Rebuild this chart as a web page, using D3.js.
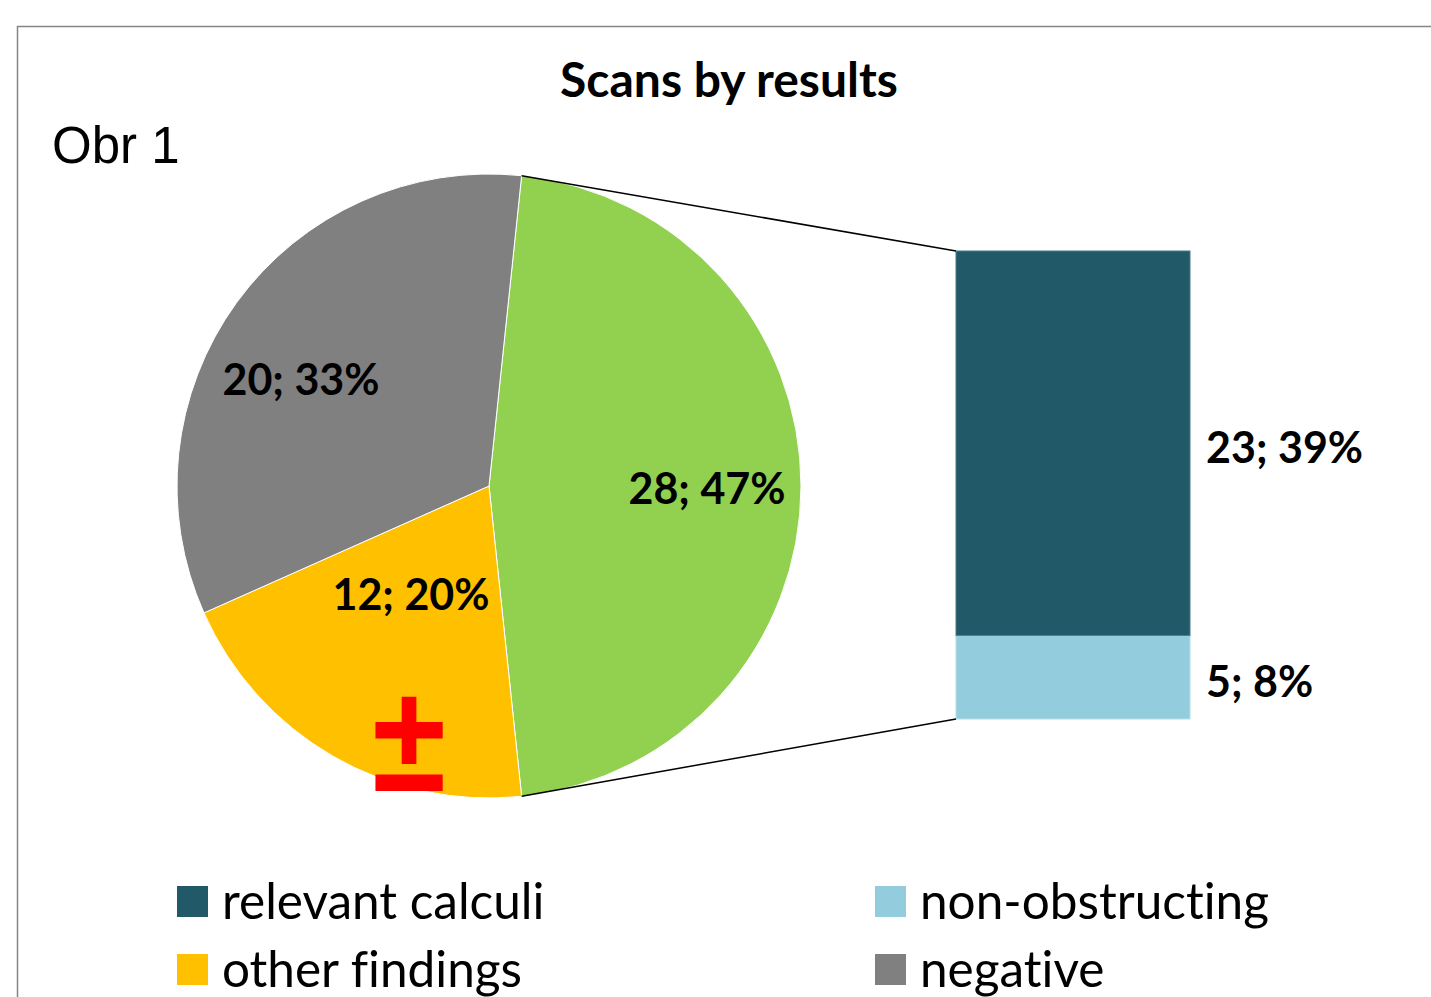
<!DOCTYPE html>
<html>
<head>
<meta charset="utf-8">
<script src="https://cdn.jsdelivr.net/npm/d3@7"></script>
<style>
  html, body { margin: 0; padding: 0; background: #fff; }
  svg { display: block; }
</style>
</head>
<body>
<svg id="chart" width="1431" height="997"></svg>
<script>
// pie: main categories
const pieNames = ['calculi', 'other findings', 'negative'];
const pieValues = [28, 12, 20];
const pieLabels = ['28; 47%', '12; 20%', '20; 33%'];
const pieColors = ['#92D050', '#FFC000', '#808080'];

// bar: split of the first slice
const barNames = ['non-obstructing', 'relevant calculi'];
const barValues = [5, 23];
const barLabels = ['5; 8%', '23; 39%'];
const barColors = ['#93CDDD', '#215968'];

const legendNames = ['relevant calculi', 'non-obstructing', 'other findings', 'negative'];
const legendColors = ['#215968', '#93CDDD', '#FFC000', '#808080'];

const W = 1431, H = 997;
const font = 'Lato, "Open Sans", sans-serif';
const svg = d3.select('#chart');

// frame (cut off at right / bottom like the original)
svg.append('rect')
  .attr('x', 17.5).attr('y', 26.5)
  .attr('width', W + 20).attr('height', H + 20)
  .attr('fill', 'none').attr('stroke', '#858585').attr('stroke-width', 1.5);

svg.append('text')
  .attr('x', 729).attr('y', 97)
  .attr('text-anchor', 'middle')
  .style('font-family', font).style('font-weight', 700).style('font-size', '48px')
  .text('Scans by results');

svg.append('text')
  .attr('x', 52).attr('y', 163)
  .style('font-family', '"Liberation Sans", Arial, sans-serif').style('font-size', '51px')
  .text('Obr 1');

// ---- pie
const cx = 489, cy = 486, r = 312;
const total = d3.sum(pieValues);
const start = Math.PI / 2 - (pieValues[0] / total) * Math.PI;
const pie = d3.pie().sort(null).startAngle(start).endAngle(start + 2 * Math.PI);
const arcs = pie(pieValues);
const arc = d3.arc().innerRadius(0).outerRadius(r);

const gp = svg.append('g').attr('transform', `translate(${cx},${cy})`);
gp.selectAll('path').data(arcs).join('path')
  .attr('d', arc)
  .attr('fill', (d, i) => pieColors[i])
  .attr('stroke', '#fff').attr('stroke-width', 1);

const labelPos = [[218, 1], [-78, 107], [-188, -108]];
gp.selectAll('text.lbl').data(arcs).join('text')
  .attr('class', 'lbl')
  .attr('x', (d, i) => labelPos[i][0])
  .attr('y', (d, i) => labelPos[i][1])
  .attr('text-anchor', 'middle').attr('dominant-baseline', 'central')
  .style('font-family', font).style('font-weight', 700).style('font-size', '43px')
  .text((d, i) => pieLabels[i]);

// ± mark in the orange slice
gp.append('text')
  .attr('transform', 'translate(-80,305) scale(1,1.13)')
  .attr('text-anchor', 'middle')
  .style('font-family', '"Liberation Sans", Arial, sans-serif').style('font-weight', 700)
  .style('font-size', '134px').attr('fill', '#FF0000')
  .text('±');

// ---- bar of pie
const bx0 = 956, bx1 = 1190;
const y = d3.scaleLinear().domain([0, d3.sum(barValues)]).range([719, 251]);
const stack = d3.cumsum(barValues);
const segs = barValues.map((v, i) => ({ v, lo: stack[i] - v, hi: stack[i] }));

svg.selectAll('rect.seg').data(segs).join('rect')
  .attr('class', 'seg')
  .attr('x', bx0).attr('width', bx1 - bx0)
  .attr('y', d => y(d.hi)).attr('height', d => y(d.lo) - y(d.hi))
  .attr('fill', (d, i) => barColors[i])
  .attr('stroke', (d, i) => i ? '#4a7c8a' : '#b4dde8').attr('stroke-width', 1);

svg.selectAll('text.blbl').data(segs).join('text')
  .attr('class', 'blbl')
  .attr('x', 1206).attr('y', d => (y(d.lo) + y(d.hi)) / 2 + 3)
  .attr('dominant-baseline', 'central')
  .style('font-family', font).style('font-weight', 700).style('font-size', '43px')
  .text((d, i) => barLabels[i]);

// connector lines
const a0 = arcs[0].startAngle, a1 = arcs[0].endAngle;
const pt = a => [cx + r * Math.sin(a), cy - r * Math.cos(a)];
const conn = [[pt(a0), [bx0, y(d3.sum(barValues))]], [pt(a1), [bx0, y(0)]]];
svg.selectAll('line.conn').data(conn).join('line')
  .attr('class', 'conn')
  .attr('x1', d => d[0][0]).attr('y1', d => d[0][1])
  .attr('x2', d => d[1][0]).attr('y2', d => d[1][1])
  .attr('stroke', '#000').attr('stroke-width', 1.5);

// ---- legend
const lx = [177, 875], ly = [886, 954];
const lg = svg.selectAll('g.leg').data(legendNames).join('g')
  .attr('class', 'leg')
  .attr('transform', (d, i) => `translate(${lx[i % 2]},${ly[Math.floor(i / 2)]})`);
lg.append('rect').attr('width', 31).attr('height', 31)
  .attr('fill', (d, i) => legendColors[i]);
lg.append('text')
  .attr('x', 45).attr('y', 14)
  .attr('dominant-baseline', 'central')
  .style('font-family', font).style('font-size', '49.5px')
  .style('font-variant-ligatures', 'none')
  .text(d => d);
</script>
</body>
</html>
